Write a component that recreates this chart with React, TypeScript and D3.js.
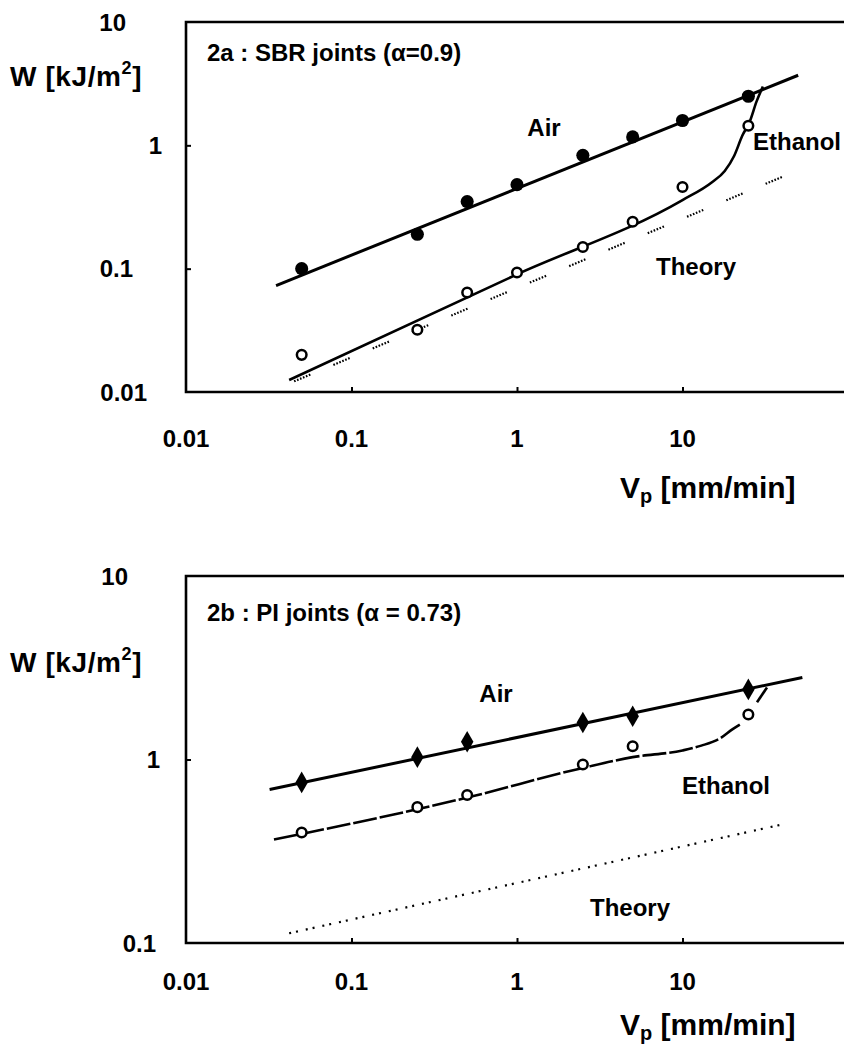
import { useRef, useEffect } from 'react';
import * as d3 from 'd3';

// peel rate V_p [mm/min], shared by both panels
const xTicks = [0.01, 0.1, 1, 10];

// 2a : SBR joints
const speedA = [0.05, 0.25, 0.5, 1, 2.5, 5, 10, 25];
const airA = [0.1, 0.19, 0.35, 0.48, 0.83, 1.17, 1.59, 2.5];
const ethanolA = [0.02, 0.032, 0.064, 0.093, 0.15, 0.24, 0.46, 1.44];
const airFitXA = [0.035, 50];
const airFitYA = [0.073, 3.7];
const ethFitXA = [0.042, 1, 10, 15, 18, 20.5, 23, 25.5, 28, 30.6];
const ethFitYA = [0.0125, 0.09, 0.36, 0.5, 0.62, 0.82, 1.2, 1.56, 2.26, 3.0];
const theoryXA = [0.045, 42];
const theoryYA = [0.0122, 0.57];
const yTicksA = [0.01, 0.1, 1, 10];

// 2b : PI joints
const speedB = [0.05, 0.25, 0.5, 2.5, 5, 25];
const airB = [0.75, 1.03, 1.25, 1.59, 1.72, 2.41];
const ethanolB = [0.4, 0.55, 0.64, 0.94, 1.18, 1.76];
const airFitXB = [0.032, 53];
const airFitYB = [0.686, 2.8];
const ethFitXB = [0.034, 0.5, 2.5, 5, 10, 13, 17, 20, 22.2];
const ethFitYB = [0.366, 0.62, 0.9, 1.03, 1.12, 1.19, 1.31, 1.46, 1.55];
const ethTailXB = [28.2, 32.4];
const ethTailYB = [2.05, 2.47];
const theoryXB = [0.042, 38.8];
const theoryYB = [0.113, 0.44];
const yTicksB = [0.1, 1, 10];

const FONT = '"Liberation Sans", Arial, Helvetica, sans-serif';
const zip = (xs: number[], ys: number[]) => xs.map((v, i) => [v, ys[i]] as [number, number]);

export default function App() {
  const svgRef = useRef<SVGSVGElement>(null);

  useEffect(() => {
    const svg = d3.select(svgRef.current);
    svg.selectAll('*').remove();

    const x = d3.scaleLog().domain([0.01, 100]).range([186, 848]);

    const panels = [
      {
        title: '2a : SBR joints (\u03b1=0.9)',
        titleY: 52,
        y: d3.scaleLog().domain([0.01, 10]).range([392, 22]),
        yTicks: yTicksA,
        yLabelEnd: { 10: 126, 1: 162, 0.1: 133, 0.01: 147 } as Record<number, number>,
        wLabelY: 76,
        xLabelY: 438,
        vpY: 487,
        air: zip(speedA, airA),
        eth: zip(speedA, ethanolA),
        airFit: zip(airFitXA, airFitYA),
        ethFit: zip(ethFitXA, ethFitYA),
        ethTail: null as [number, number][] | null,
        theory: zip(theoryXA, theoryYA),
        airSymbol: d3.symbolCircle,
        airSize: 135,
        ethDash: null as string | null,
        theoryDash: '1.6,1.6,1.6,1.6,1.6,1.6,1.6,1.6,1.6,1.6,1.6,25',
        labels: [
          { t: 'Air', x: 544, y: 127, anchor: 'middle' },
          { t: 'Ethanol', x: 753, y: 141, anchor: 'start' },
          { t: 'Theory', x: 696, y: 266, anchor: 'middle' },
        ],
      },
      {
        title: '2b : PI joints (\u03b1 = 0.73)',
        titleY: 612,
        y: d3.scaleLog().domain([0.1, 10]).range([943, 576]),
        yTicks: yTicksB,
        yLabelEnd: { 10: 128, 1: 160, 0.1: 156 } as Record<number, number>,
        wLabelY: 662,
        xLabelY: 981,
        vpY: 1024,
        air: zip(speedB, airB),
        eth: zip(speedB, ethanolB),
        airFit: zip(airFitXB, airFitYB),
        ethFit: zip(ethFitXB, ethFitYB),
        ethTail: zip(ethTailXB, ethTailYB),
        theory: zip(theoryXB, theoryYB),
        airSymbol: d3.symbolDiamond,
        airSize: 135,
        ethDash: '24,3',
        theoryDash: '2,5,2,8',
        labels: [
          { t: 'Air', x: 496, y: 693, anchor: 'middle' },
          { t: 'Ethanol', x: 682, y: 785, anchor: 'start' },
          { t: 'Theory', x: 630, y: 907, anchor: 'middle' },
        ],
      },
    ];

    const text = (g: any, s: string, px: number, py: number, size: number, anchor = 'start') =>
      g
        .append('text')
        .attr('x', px)
        .attr('y', py)
        .attr('dominant-baseline', 'central')
        .attr('text-anchor', anchor)
        .attr('font-family', FONT)
        .attr('font-weight', 'bold')
        .attr('font-size', size)
        .attr('fill', '#000')
        .text(s);

    panels.forEach(p => {
      const g = svg.append('g');
      const y = p.y;
      const [y0, y1] = y.range();

      // frame: left, top, bottom (right edge falls off the page)
      g.append('path')
        .attr('d', `M${x(100) + 10},${y1}H${x(0.01)}V${y0}H${x(100) + 10}`)
        .attr('fill', 'none')
        .attr('stroke', '#000')
        .attr('stroke-width', 2.6);

      // small inward ticks
      const xAxis = g
        .append('g')
        .attr('transform', `translate(0,${y0})`)
        .call(d3.axisBottom(x).tickValues([0.1, 1, 10]).tickSize(-5).tickFormat(() => ''));
      xAxis.select('.domain').remove();
      xAxis.selectAll('line').attr('stroke-width', 2);

      const yAxis = g
        .append('g')
        .attr('transform', `translate(${x(0.01)},0)`)
        .call(d3.axisLeft(y).tickValues(p.yTicks.slice(1, -1)).tickSize(-5).tickFormat(() => ''));
      yAxis.select('.domain').remove();
      yAxis.selectAll('line').attr('stroke-width', 2);

      // tick labels
      p.yTicks.forEach(v => text(g, String(v), p.yLabelEnd[v], y(v), 24, 'end'));
      xTicks.forEach(v => text(g, String(v), x(v), p.xLabelY, 24, 'middle'));

      // axis titles
      const w = text(g, 'W [kJ/m', 10, p.wLabelY, 28).attr('letter-spacing', 0.6);
      w.append('tspan').attr('font-size', 18).attr('dy', -8).text('2');
      w.append('tspan').attr('dy', 8).text(']');

      const vp = text(g, 'V', 620, p.vpY, 30);
      vp.append('tspan').attr('font-size', 20).attr('dy', 9).text('p');
      vp.append('tspan').attr('dy', -9).text(' [mm/min]');

      text(g, p.title, 207, p.titleY, 24);
      p.labels.forEach(l => text(g, l.t, l.x, l.y, 24, l.anchor));

      const line = d3
        .line<[number, number]>()
        .x(d => x(d[0]))
        .y(d => y(d[1]))
        .curve(d3.curveMonotoneX);

      g.append('path')
        .attr('d', line(p.theory))
        .attr('fill', 'none')
        .attr('stroke', '#000')
        .attr('stroke-width', 2.2)
        .attr('stroke-dasharray', p.theoryDash);

      g.append('path')
        .attr('d', line(p.airFit))
        .attr('fill', 'none')
        .attr('stroke', '#000')
        .attr('stroke-width', 3);

      const eth = g
        .append('path')
        .attr('d', line(p.ethFit))
        .attr('fill', 'none')
        .attr('stroke', '#000')
        .attr('stroke-width', 2.6);
      if (p.ethDash) eth.attr('stroke-dasharray', p.ethDash);

      if (p.ethTail) {
        g.append('path')
          .attr('d', line(p.ethTail))
          .attr('fill', 'none')
          .attr('stroke', '#000')
          .attr('stroke-width', 2.6);
      }

      // measured points
      g.selectAll('.air')
        .data(p.air)
        .enter()
        .append('path')
        .attr('transform', d => `translate(${x(d[0])},${y(d[1])})`)
        .attr('d', d3.symbol().type(p.airSymbol).size(p.airSize)())
        .attr('fill', '#000');

      g.selectAll('.eth')
        .data(p.eth)
        .enter()
        .append('circle')
        .attr('cx', d => x(d[0]))
        .attr('cy', d => y(d[1]))
        .attr('r', 4.8)
        .attr('fill', '#fff')
        .attr('stroke', '#000')
        .attr('stroke-width', 2.5);
    });
  }, []);

  return (
    <svg
      ref={svgRef}
      width={844}
      height={1047}
      style={{ position: 'absolute', left: 0, top: 0, background: '#fff' }}
    />
  );
}
